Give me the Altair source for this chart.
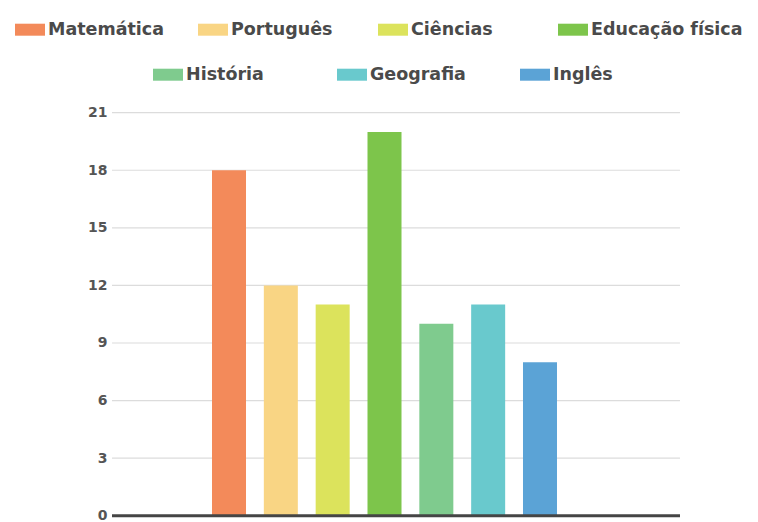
import altair as alt
import pandas as pd

subjects = ["Matemática", "Português", "Ciências", "Educação física",
            "História", "Geografia", "Inglês"]
values = [18, 12, 11, 20, 10, 11, 8]
colors = ["#F38A5A", "#F9D584", "#DCE35C", "#7DC54B",
          "#7FCB8E", "#69C9CD", "#5BA3D6"]
y_ticks = [0, 3, 6, 9, 12, 15, 18, 21]

# legend entry placement (pixels, relative to the plot area's top-left)
legend_x = [-97, 86, 266, 446, 41, 225, 408]
legend_y = [-98, -98, -98, -98, -53, -53, -53]

df = pd.DataFrame({"Disciplina": subjects, "Valor": values})
grid_df = pd.DataFrame({"Valor": y_ticks})
base_df = pd.DataFrame({"Valor": [0]})

FONT = "DejaVu Sans"
y_scale = alt.Scale(domain=[0, 21], nice=False)
y_axis = alt.Axis(title=None, values=y_ticks, grid=False, domain=False,
                  ticks=False, labelPadding=5, labelFont=FONT,
                  labelFontWeight="bold", labelFontSize=14,
                  labelColor="#555555")

x_enc = alt.X(
    "Disciplina:N", sort=subjects,
    scale=alt.Scale(domain=subjects, paddingInner=0.344, paddingOuter=0, range=[100, 445]),
    axis=None,
)
y_enc = alt.Y("Valor:Q", scale=y_scale, axis=y_axis)

grid = alt.Chart(grid_df).mark_rule(color="#dcdcdc", strokeWidth=1.2).encode(y=y_enc)

layers = [grid]
for i, s in enumerate(subjects):
    leg = alt.Legend(
        title=None, orient="none", legendX=legend_x[i], legendY=legend_y[i],
        symbolType="M-1,-0.4H1V0.4H-1Z", symbolSize=900, symbolStrokeWidth=0,
        labelFont=FONT, labelFontWeight="bold", labelFontSize=17.5,
        labelColor="#4a4a4a", labelOffset=3, padding=0, labelLimit=300,
    )
    layers.append(
        alt.Chart(df).transform_filter(alt.datum.Disciplina == s).mark_bar().encode(
            x=x_enc, y=y_enc,
            color=alt.Color("Disciplina:N",
                            scale=alt.Scale(domain=[s], range=[colors[i]]),
                            legend=leg),
        )
    )

baseline = alt.Chart(base_df).mark_rule(color="#454545", strokeWidth=3).encode(y=y_enc)
layers.append(baseline)

chart = alt.layer(*layers).resolve_scale(color="independent").properties(
    width=568, height=403,
    padding={"left": 104, "top": 104.7, "right": 70, "bottom": 8},
    autosize=alt.AutoSizeParams(type="none"),
).configure_view(stroke=None)

chart.save("out.html", embed_options={"renderer": "svg", "actions": False})
